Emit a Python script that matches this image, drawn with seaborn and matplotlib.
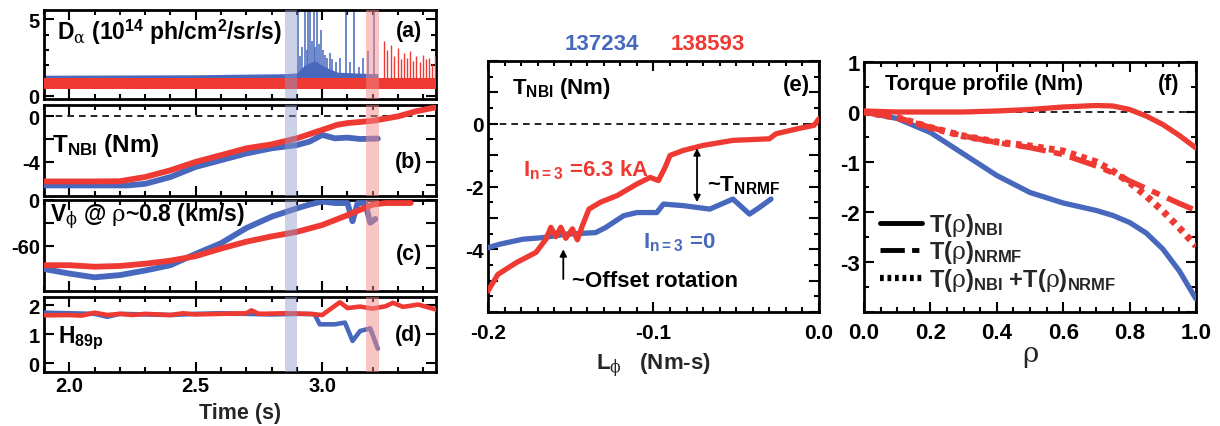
import numpy as np
import pandas as pd
import matplotlib
matplotlib.use("Agg")
import matplotlib.pyplot as plt
from matplotlib.lines import Line2D
import seaborn as sns

# ---------------- data ----------------
BLUE = "#4868bd"
RED = "#ee3a33"
shot_blue = "137234"
shot_red = "138593"

# (a) D-alpha: baseline bands and spikes
da_t = [1.90, 2.50, 2.85, 2.90, 2.93, 2.97, 3.00, 3.03, 3.06, 3.20, 3.22]
da_blue_lo = [0.90, 0.90, 0.95, 0.95, 1.00, 1.10, 1.05, 1.00, 0.95, 0.95, 0.95]
da_blue_hi = [1.35, 1.38, 1.45, 1.50, 2.00, 2.30, 2.00, 1.75, 1.55, 1.45, 1.45]
da_red_t = [1.90, 3.45]
da_red_lo = [0.45, 0.45]
da_red_hi = [1.15, 1.15]
spk_blue_t = [2.903, 2.912, 2.920, 2.932, 2.938, 2.945, 2.953, 2.960, 2.966, 2.972, 2.979, 2.987,
              2.995, 3.003, 3.012, 3.020, 3.030, 3.040, 3.055, 3.070, 3.094, 3.110, 3.127, 3.145,
              3.160, 3.180, 3.206]
spk_blue_h = [5.6, 2.6, 3.2, 5.6, 3.0, 5.6, 5.6, 3.6, 5.6, 3.2, 5.6, 3.4,
              4.3, 3.0, 2.7, 2.5, 2.8, 2.4, 2.2, 2.5, 5.6, 2.2, 5.6, 1.9,
              2.5, 2.9, 5.6]
spk_red_t = [3.245, 3.258, 3.272, 3.285, 3.298, 3.31, 3.322, 3.335, 3.348, 3.36, 3.372, 3.385, 3.398, 3.41, 3.422, 3.435, 3.445]
spk_red_h = [3.6, 3.0, 3.3, 2.6, 3.1, 2.4, 2.8, 2.5, 2.9, 2.3, 2.6, 2.2, 2.7, 2.4, 2.5, 2.1, 2.6]

# (b) T_NBI vs time
tb_red = [1.90, 2.00, 2.10, 2.20, 2.30, 2.40, 2.50, 2.60, 2.70, 2.80, 2.90, 3.00, 3.06, 3.10, 3.20, 3.30, 3.37, 3.45]
vb_red = [-5.72, -5.72, -5.72, -5.70, -5.33, -4.74, -4.00, -3.41, -2.81, -2.46, -1.93, -1.19, -0.74, -0.59, -0.39, 0.0, 0.44, 0.80]
tb_blue = [1.90, 2.00, 2.10, 2.23, 2.30, 2.40, 2.50, 2.60, 2.70, 2.80, 2.90, 2.95, 3.00, 3.05, 3.10, 3.15, 3.22]
vb_blue = [-6.07, -6.07, -6.07, -6.07, -5.93, -5.33, -4.44, -3.85, -3.26, -2.81, -2.52, -2.22, -1.63, -1.93, -1.87, -1.99, -1.95]

# (c) V_phi at rho~0.8
tc_red = [1.90, 2.00, 2.10, 2.20, 2.30, 2.40, 2.50, 2.60, 2.70, 2.80, 2.90, 3.00, 3.10, 3.15, 3.20, 3.25, 3.35]
vc_red = [-86, -86, -88, -87, -84, -80, -74, -64, -55, -48, -42, -33, -20, -13, -6, -4, -4]
tc_blue = [1.90, 2.00, 2.10, 2.20, 2.30, 2.40, 2.50, 2.60, 2.70, 2.80, 2.90, 2.95, 3.00, 3.05, 3.10, 3.12, 3.14, 3.17, 3.19, 3.21]
vc_blue = [-91, -97, -102, -99, -93, -86, -71, -57, -37, -22, -11, -6, -2, -4, -4, -28, -4, -4, -30, -25]

# (d) H89p
td_red = [1.90, 2.00, 2.05, 2.10, 2.15, 2.20, 2.25, 2.30, 2.40, 2.45, 2.50, 2.60, 2.70, 2.72, 2.75, 2.85, 2.95, 3.00, 3.03, 3.07, 3.10, 3.15, 3.20, 3.25, 3.28, 3.32, 3.38, 3.45]
vd_red = [1.65, 1.66, 1.64, 1.74, 1.66, 1.70, 1.66, 1.70, 1.66, 1.72, 1.68, 1.70, 1.72, 1.82, 1.70, 1.72, 1.70, 1.66, 1.85, 2.10, 1.90, 1.95, 1.88, 1.96, 2.08, 1.94, 2.02, 1.85]
td_blue = [1.90, 2.00, 2.10, 2.15, 2.20, 2.30, 2.40, 2.50, 2.60, 2.70, 2.80, 2.90, 2.97, 2.99, 3.05, 3.09, 3.12, 3.15, 3.19, 3.22]
vd_blue = [1.74, 1.72, 1.70, 1.60, 1.70, 1.68, 1.66, 1.70, 1.72, 1.70, 1.68, 1.70, 1.69, 1.34, 1.34, 1.40, 0.77, 1.11, 1.20, 0.50]

# (e) T_NBI vs L_phi
le_red = [-0.200, -0.194, -0.183, -0.171, -0.165, -0.162, -0.159, -0.156, -0.153, -0.149, -0.146, -0.143, -0.139, -0.132, -0.122, -0.110, -0.102, -0.097, -0.093, -0.090, -0.082, -0.070, -0.052, -0.030, -0.026, -0.013, -0.003, 0.0]
te_red = [-5.33, -4.80, -4.43, -4.10, -3.68, -3.30, -3.60, -3.30, -3.65, -3.35, -3.70, -3.25, -2.72, -2.50, -2.29, -1.92, -1.71, -1.81, -1.39, -1.01, -0.85, -0.69, -0.53, -0.48, -0.32, -0.16, -0.05, 0.16]
le_blue = [-0.200, -0.193, -0.179, -0.167, -0.153, -0.135, -0.129, -0.118, -0.110, -0.098, -0.094, -0.082, -0.066, -0.052, -0.042, -0.036, -0.029]
te_blue = [-3.95, -3.84, -3.68, -3.63, -3.52, -3.47, -3.31, -2.93, -2.83, -2.83, -2.56, -2.61, -2.72, -2.40, -2.88, -2.67, -2.40]

# (f) torque profiles
rho = [0.0, 0.1, 0.2, 0.3, 0.4, 0.5, 0.6, 0.7, 0.75, 0.8, 0.85, 0.9, 0.95, 1.0]
tf_nbi_red = [0.02, 0.0, 0.0, 0.0, 0.02, 0.05, 0.10, 0.13, 0.12, 0.05, -0.08, -0.25, -0.47, -0.72]
tf_nbi_blue = [0.0, -0.13, -0.41, -0.84, -1.27, -1.61, -1.82, -1.97, -2.07, -2.21, -2.42, -2.74, -3.18, -3.74]
tf_nrmf = [0.0, -0.11, -0.31, -0.48, -0.61, -0.71, -0.85, -1.08, -1.22, -1.38, -1.53, -1.68, -1.83, -1.97]
tf_sum = [0.0, -0.11, -0.31, -0.48, -0.60, -0.68, -0.78, -1.00, -1.18, -1.41, -1.68, -1.98, -2.32, -2.68]

band_blue = (2.851, 2.900)
band_red = (3.173, 3.224)

# ---------------- style ----------------
sns.set_theme(style="ticks")
plt.rcParams["font.family"] = ["Liberation Sans", "DejaVu Sans"]
plt.rcParams["font.weight"] = "bold"
plt.rcParams["axes.unicode_minus"] = False
plt.rcParams["mathtext.fontset"] = "custom"
plt.rcParams["mathtext.rm"] = "Liberation Sans:bold"
plt.rcParams["mathtext.bf"] = "Liberation Sans:bold"
plt.rcParams["mathtext.it"] = "DejaVu Serif:weight=normal"
plt.rcParams["mathtext.default"] = "it"

fig = plt.figure(figsize=(12.2, 4.27), dpi=100)


def style_ax(ax, lab=14, pad=3):
    for s in ax.spines.values():
        s.set_linewidth(2.0)
        s.set_color("black")
    ax.tick_params(which="both", direction="in", top=True, right=True,
                   width=1.5, colors="black", labelsize=lab)
    ax.tick_params(which="major", length=7)
    ax.tick_params(which="minor", length=3.5)
    ax.tick_params(axis="x", which="major", pad=pad)
    ax.tick_params(axis="y", which="major", pad=3)
    for l in ax.get_xticklabels() + ax.get_yticklabels():
        l.set_fontweight("bold")


def line(ax, x, y, color, lw, ls="-", z=3):
    df = pd.DataFrame({"x": x, "y": y})
    sns.lineplot(data=df, x="x", y="y", ax=ax, color=color, lw=lw, ls=ls,
                 sort=False, estimator=None, zorder=z)
    ax.set_xlabel("")
    ax.set_ylabel("")


W, H = 1220, 427


def pos(x0, x1, y0, y1):
    return [x0 / W, 1 - y1 / H, (x1 - x0) / W, (y1 - y0) / H]


ax_a = fig.add_axes(pos(44, 436, 11, 100))
ax_b = fig.add_axes(pos(44, 436, 106, 197))
ax_c = fig.add_axes(pos(44, 436, 201, 292))
ax_d = fig.add_axes(pos(44, 436, 298, 373))
ax_e = fig.add_axes(pos(488, 819, 62, 313))
ax_f = fig.add_axes(pos(864, 1196, 63, 313))

# (a)
ax_a.fill_between(da_red_t, da_red_lo, da_red_hi, color=RED, lw=0, zorder=3)
ax_a.fill_between(da_t, da_blue_lo, da_blue_hi, color=BLUE, lw=0, zorder=2)
ax_a.vlines(spk_blue_t, 1.2, spk_blue_h, color=BLUE, lw=1.1, zorder=2)
ax_a.vlines(spk_red_t, 1.0, spk_red_h, color=RED, lw=1.0, zorder=3)
ax_a.set_ylim(-0.2, 5.6)
ax_a.set_yticks([0, 5])
ax_a.set_yticks([1, 2, 3, 4], minor=True)

# (b)
line(ax_b, tb_blue, vb_blue, BLUE, 4.2)
line(ax_b, tb_red, vb_red, RED, 4.2)
ax_b.axhline(0, color="black", ls=(0, (4, 3)), lw=1.2, zorder=1)
ax_b.set_ylim(-7, 1)
ax_b.set_yticks([0, -2, -4, -6])
ax_b.set_yticklabels(["0", "", "-4", ""])

# (c)
line(ax_c, tc_blue, vc_blue, BLUE, 4.2)
line(ax_c, tc_red, vc_red, RED, 4.2)
ax_c.set_ylim(-120, 0)
ax_c.set_yticks([0, -30, -60, -90])
ax_c.set_yticklabels(["0", "", "-60", ""])

# (d)
line(ax_d, td_blue, vd_blue, BLUE, 3.3)
line(ax_d, td_red, vd_red, RED, 3.3)
ax_d.set_ylim(-0.3, 2.28)
ax_d.set_yticks([0, 1, 2])

for ax in (ax_a, ax_b, ax_c, ax_d):
    ax.set_xlim(1.90, 3.45)
    ax.set_xticks([2.0, 2.5, 3.0])
    ax.set_xticks(np.arange(1.9, 3.451, 0.1), minor=True)
    ax.axvspan(*band_blue, color="#8e9acb", alpha=0.45, lw=0, zorder=5)
    ax.axvspan(*band_red, color="#f48a8a", alpha=0.5, lw=0, zorder=5)
    style_ax(ax, 14.5)
    if ax is not ax_d:
        ax.set_xticklabels([])
ax_d.set_xticklabels(["2.0", "2.5", "3.0"], fontweight="bold")
ax_d.set_xlabel("Time (s)", fontsize=15.5, fontweight="bold", labelpad=5)

tk = dict(fontweight="bold", color="black", zorder=6)
ax_a.text(0.033, 0.674, r"D$_{\alpha}$ (10$^{\mathbf{14}}$ ph/cm$^{\mathbf{2}}$/sr/s)", fontsize=16.5,
          transform=ax_a.transAxes, ha="left", va="baseline", **tk)
ax_a.text(0.965, 0.71, "(a)", fontsize=15.5, transform=ax_a.transAxes, ha="right", va="baseline", **tk)
ax_b.text(0.02, 0.49, r"T$_{\mathbf{NBI}}$ (Nm)", fontsize=17.5, transform=ax_b.transAxes,
          ha="left", va="baseline", **tk)
ax_b.text(0.965, 0.32, "(b)", fontsize=15.5, transform=ax_b.transAxes, ha="right", va="baseline", **tk)
ax_c.text(0.015, 0.76, r"V$_{\phi}$ @ $\rho$~0.8 (km/s)", fontsize=16.5, transform=ax_c.transAxes,
          ha="left", va="baseline", **tk)
ax_c.text(0.965, 0.35, "(c)", fontsize=15.5, transform=ax_c.transAxes, ha="right", va="baseline", **tk)
ax_d.text(0.036, 0.40, r"H$_{\mathbf{89p}}$", fontsize=16.5, transform=ax_d.transAxes,
          ha="left", va="baseline", **tk)
ax_d.text(0.965, 0.42, "(d)", fontsize=15.5, transform=ax_d.transAxes, ha="right", va="baseline", **tk)

# (e)
ax_e.axhline(0, color="black", ls=(0, (4, 3)), lw=1.2, zorder=1)
line(ax_e, le_blue, te_blue, BLUE, 3.8)
line(ax_e, le_red, te_red, RED, 3.8)
ax_e.set_xlim(-0.2, 0.0)
ax_e.set_ylim(-6, 2)
ax_e.set_xticks([-0.2, -0.1, 0.0])
ax_e.set_xticklabels(["-0.2", "-0.1", "0.0"])
ax_e.set_xticks(np.arange(-0.2, 0.001, 0.01), minor=True)
ax_e.set_yticks([-6, -5, -4, -3, -2, -1, 0, 1, 2])
ax_e.set_yticklabels(["", "", "-4", "", "-2", "", "0", "", ""])
ax_e.set_yticks(np.arange(-6, 2.01, 0.5), minor=True)
style_ax(ax_e, 15, pad=8)
ax_e.set_xlabel(r"L$_{\phi}$   (Nm-s)", fontsize=16, fontweight="bold", labelpad=6)
tk16 = dict(fontsize=16, fontweight="bold", zorder=6)
ax_e.text(-0.1855, 1.15, r"T$_{\mathbf{NBI}}$ (Nm)", ha="left", va="center", color="black", **tk16)
ax_e.text(0.973, 0.905, "(e)", transform=ax_e.transAxes, ha="right", va="center", color="black", **tk16)
ax_e.text(-0.179, -1.45, r"I$_{\mathbf{n=3}}$ =6.3 kA", ha="left", va="center", color=RED, **tk16)
ax_e.text(-0.1063, -3.75, r"I$_{\mathbf{n=3}}$ =0", ha="left", va="center", color=BLUE, **tk16)
ax_e.text(-0.0677, -1.95, r"~T$_{\mathbf{NRMF}}$", ha="left", va="center", color="black", **tk16)
ax_e.text(-0.149, -5.0, "~Offset rotation", ha="left", va="center", color="black", **tk16)
ax_e.annotate("", xy=(-0.0737, -0.78), xytext=(-0.0737, -2.5),
              arrowprops=dict(arrowstyle="<|-|>", lw=1.3, color="black", mutation_scale=10,
                              shrinkA=0, shrinkB=0))
ax_e.annotate("", xy=(-0.1545, -4.0), xytext=(-0.1545, -4.95),
              arrowprops=dict(arrowstyle="-|>", lw=1.3, color="black", mutation_scale=10,
                              shrinkA=0, shrinkB=0))
fig.text(602 / W, 1 - 45 / H, shot_blue, color=BLUE, fontsize=16, fontweight="bold", ha="center", va="center")
fig.text(708 / W, 1 - 45 / H, shot_red, color=RED, fontsize=16, fontweight="bold", ha="center", va="center")

# (f)
ax_f.axhline(0, color="black", ls=(0, (4, 3)), lw=1.2, zorder=1)
line(ax_f, rho, tf_nbi_blue, BLUE, 3.8)
line(ax_f, rho, tf_nbi_red, RED, 3.8)
line(ax_f, rho, tf_nrmf, RED, 4.0, ls=(0, (5, 1.5, 1.5, 1.5)))
line(ax_f, rho, tf_sum, RED, 5.0, ls=(0, (0.8, 0.8)))
ax_f.set_xlim(0, 1)
ax_f.set_ylim(-4, 1)
ax_f.set_xticks([0, 0.2, 0.4, 0.6, 0.8, 1.0])
ax_f.set_xticklabels(["0.0", "0.2", "0.4", "0.6", "0.8", "1.0"])
ax_f.set_xticks(np.arange(0, 1.001, 0.05), minor=True)
ax_f.set_yticks([-4, -3, -2, -1, 0, 1])
ax_f.set_yticklabels(["", "-3", "-2", "-1", "0", "1"])
ax_f.set_yticks(np.arange(-4, 1.01, 0.5), minor=True)
style_ax(ax_f, 16, pad=7)
ax_f.set_xlabel(r"$\rho$", fontsize=20, labelpad=0)
ax_f.text(0.063, 0.46, "Torque profile (Nm)", ha="left", va="baseline", color="black",
          fontsize=15.5, fontweight="bold", zorder=6)
ax_f.text(0.95, 0.46, "(f)", ha="right", va="baseline", color="black", fontsize=15.5,
          fontweight="bold", zorder=6)
handles = [Line2D([], [], color="black", lw=3.5),
           Line2D([], [], color="black", lw=3.5, ls=(0, (5, 1.5, 1.5, 1.5))),
           Line2D([], [], color="black", lw=4.5, ls=(0, (0.6, 0.6)))]
labels = [r"T($\rho$)$_{\mathbf{NBI}}$", r"T($\rho$)$_{\mathbf{NRMF}}$",
          r"T($\rho$)$_{\mathbf{NBI}}$ +T($\rho$)$_{\mathbf{NRMF}}$"]
leg = ax_f.legend(handles, labels, loc="lower left", bbox_to_anchor=(0.005, 0.02), frameon=False,
                  fontsize=17, handlelength=1.8, handletextpad=0.3, labelspacing=0.02,
                  borderaxespad=0.2)
for t in leg.get_texts():
    t.set_fontweight("bold")

fig.savefig("out.png", dpi=100)
